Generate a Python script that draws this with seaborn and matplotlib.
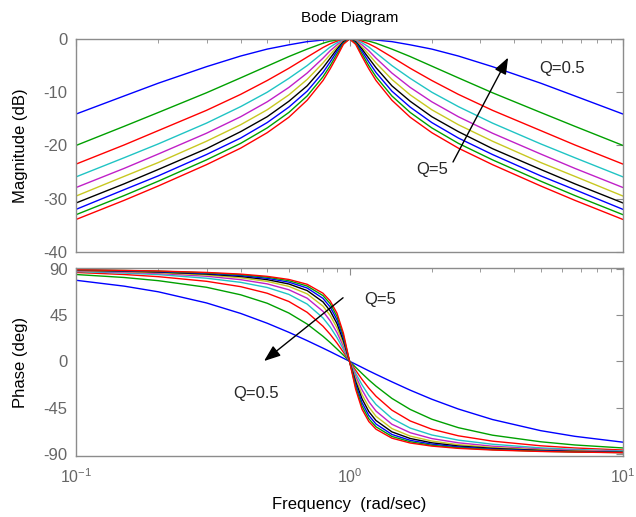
import pandas as pd
import matplotlib
matplotlib.use("Agg")
import matplotlib.pyplot as plt
import seaborn as sns

# Frequency points (rad/sec)
freq = [0.1, 0.15, 0.2, 0.3, 0.4, 0.5, 0.6, 0.7, 0.8, 0.85, 0.9, 0.95, 1.0,
        1.053, 1.111, 1.176, 1.25, 1.429, 1.667, 2.0, 2.5, 3.333, 5.0, 6.667, 10.0]

q_labels = ["0.5", "1", "1.5", "2", "2.5", "3", "3.5", "4", "4.5", "5"]

# Magnitude (dB), one row per Q
mag_db = [
    [-14.1, -10.7, -8.3, -5.2, -3.2, -1.9, -1.1, -0.5, -0.2, -0.1, -0.05, -0.01, 0, -0.01, -0.05, -0.1, -0.2, -0.5, -1.1, -1.9, -3.2, -5.2, -8.3, -10.7, -14.1],
    [-20.0, -16.4, -13.8, -10.1, -7.3, -5.1, -3.3, -1.9, -0.8, -0.4, -0.2, -0.05, 0, -0.05, -0.2, -0.4, -0.8, -1.9, -3.3, -5.1, -7.3, -10.1, -13.8, -16.4, -20.0],
    [-23.5, -19.9, -17.2, -13.4, -10.4, -7.8, -5.5, -3.4, -1.6, -0.9, -0.4, -0.1, 0, -0.1, -0.4, -0.9, -1.6, -3.4, -5.5, -7.8, -10.4, -13.4, -17.2, -19.9, -23.5],
    [-25.9, -22.3, -19.7, -15.8, -12.7, -10.0, -7.4, -5.0, -2.6, -1.5, -0.7, -0.2, 0, -0.2, -0.7, -1.5, -2.6, -5.0, -7.4, -10.0, -12.7, -15.8, -19.7, -22.3, -25.9],
    [-27.9, -24.3, -21.6, -17.7, -14.6, -11.8, -9.1, -6.4, -3.6, -2.2, -1.1, -0.3, 0, -0.3, -1.1, -2.2, -3.6, -6.4, -9.1, -11.8, -14.6, -17.7, -21.6, -24.3, -27.9],
    [-29.5, -25.8, -23.2, -19.2, -16.1, -13.3, -10.5, -7.6, -4.5, -2.9, -1.5, -0.4, 0, -0.4, -1.5, -2.9, -4.5, -7.6, -10.5, -13.3, -16.1, -19.2, -23.2, -25.8, -29.5],
    [-30.8, -27.2, -24.5, -20.6, -17.4, -14.6, -11.7, -8.8, -5.4, -3.6, -1.9, -0.5, 0, -0.5, -1.9, -3.6, -5.4, -8.8, -11.7, -14.6, -17.4, -20.6, -24.5, -27.2, -30.8],
    [-32.0, -28.3, -25.7, -21.7, -18.6, -15.7, -12.8, -9.8, -6.3, -4.3, -2.3, -0.7, 0, -0.7, -2.3, -4.3, -6.3, -9.8, -12.8, -15.7, -18.6, -21.7, -25.7, -28.3, -32.0],
    [-33.0, -29.4, -26.7, -22.7, -19.6, -16.7, -13.8, -10.7, -7.1, -5.0, -2.8, -0.8, 0, -0.8, -2.8, -5.0, -7.1, -10.7, -13.8, -16.7, -19.6, -22.7, -26.7, -29.4, -33.0],
    [-33.9, -30.3, -27.6, -23.6, -20.5, -17.6, -14.7, -11.5, -7.8, -5.6, -3.3, -1.0, 0, -1.0, -3.3, -5.6, -7.8, -11.5, -14.7, -17.6, -20.5, -23.6, -27.6, -30.3, -33.9],
]

# Phase (deg), one row per Q
phase_deg = [
    [78.6, 72.9, 67.4, 56.6, 46.4, 36.9, 28.1, 20.0, 12.7, 9.3, 6.0, 2.9, 0, -2.9, -6.0, -9.3, -12.7, -20.0, -28.1, -36.9, -46.4, -56.6, -67.4, -72.9, -78.6],
    [84.2, 81.3, 78.2, 71.8, 64.5, 56.3, 46.8, 36.1, 24.2, 18.1, 11.9, 5.9, 0, -5.9, -11.9, -18.1, -24.2, -36.1, -46.8, -56.3, -64.5, -71.8, -78.2, -81.3, -84.2],
    [86.2, 84.2, 82.1, 77.6, 72.4, 66.0, 58.0, 47.5, 34.0, 26.1, 17.6, 8.8, 0, -8.8, -17.6, -26.1, -34.0, -47.5, -58.0, -66.0, -72.4, -77.6, -82.1, -84.2, -86.2],
    [87.1, 85.6, 84.1, 80.6, 76.6, 71.6, 64.9, 55.5, 42.0, 33.2, 22.9, 11.6, 0, -11.6, -22.9, -33.2, -42.0, -55.5, -64.9, -71.6, -76.6, -80.6, -84.1, -85.6, -87.1],
    [87.7, 86.5, 85.2, 82.5, 79.2, 75.1, 69.4, 61.2, 48.4, 39.2, 27.8, 14.4, 0, -14.4, -27.8, -39.2, -48.4, -61.2, -69.4, -75.1, -79.2, -82.5, -85.2, -86.5, -87.7],
    [88.1, 87.1, 86.0, 83.7, 81.0, 77.5, 72.7, 65.4, 53.5, 44.4, 32.4, 17.1, 0, -17.1, -32.4, -44.4, -53.5, -65.4, -72.7, -77.5, -81.0, -83.7, -86.0, -87.1, -88.1],
    [88.4, 87.5, 86.6, 84.6, 82.3, 79.2, 75.0, 68.6, 57.6, 48.8, 36.5, 19.8, 0, -19.8, -36.5, -48.8, -57.6, -68.6, -75.0, -79.2, -82.3, -84.6, -86.6, -87.5, -88.4],
    [88.6, 87.8, 87.0, 85.3, 83.2, 80.5, 76.8, 71.1, 61.0, 52.6, 40.2, 22.3, 0, -22.3, -40.2, -52.6, -61.0, -71.1, -76.8, -80.5, -83.2, -85.3, -87.0, -87.8, -88.6],
    [88.7, 88.1, 87.4, 85.8, 84.0, 81.6, 78.2, 73.0, 63.7, 55.8, 43.5, 24.8, 0, -24.8, -43.5, -55.8, -63.7, -73.0, -78.2, -81.6, -84.0, -85.8, -87.4, -88.1, -88.7],
    [88.8, 88.2, 87.6, 86.2, 84.6, 82.4, 79.4, 74.7, 66.0, 58.5, 46.6, 27.2, 0, -27.2, -46.6, -58.5, -66.0, -74.7, -79.4, -82.4, -84.6, -86.2, -87.6, -88.2, -88.8],
]

# MATLAB-style colour order (repeats after black)
line_colors = ["#0000ff", "#00a000", "#ff0000", "#20c4c4", "#c020c8",
               "#c8c820", "#000000", "#0000ff", "#00a000", "#ff0000"]

# Long-form table for seaborn
rows = []
for q, mags, phases in zip(q_labels, mag_db, phase_deg):
    for f, m, p in zip(freq, mags, phases):
        rows.append({"Q": q, "freq": f, "mag": m, "phase": p})
df = pd.DataFrame(rows)

sns.set_style("white")
plt.rcParams["font.family"] = ["Liberation Sans", "DejaVu Sans"]
plt.rcParams["axes.unicode_minus"] = False
plt.rcParams["mathtext.default"] = "regular"

fig = plt.figure(figsize=(6.36, 5.17), dpi=100)
ax_mag = fig.add_axes([0.1195, 0.5126, 0.8601, 0.4120])
ax_ph = fig.add_axes([0.1195, 0.1180, 0.8601, 0.3636])

sns.lineplot(data=df, x="freq", y="mag", hue="Q", hue_order=q_labels,
             palette=line_colors, ax=ax_mag, legend=False, lw=1.0,
             errorbar=None)
sns.lineplot(data=df, x="freq", y="phase", hue="Q", hue_order=q_labels,
             palette=line_colors, ax=ax_ph, legend=False, lw=1.0,
             errorbar=None)

spine_gray = "#8c8c8c"
label_gray = "#666666"
for ax in (ax_mag, ax_ph):
    ax.set_xscale("log")
    ax.set_xlim(0.1, 10)
    ax.tick_params(which="both", direction="in", top=True, right=True,
                   color=spine_gray, labelcolor=label_gray)
    ax.tick_params(axis="y", labelsize=12, pad=6)
    ax.tick_params(axis="x", labelsize=11.5, pad=8)
    ax.tick_params(which="major", length=5)
    ax.tick_params(which="minor", length=3)
    for s in ax.spines.values():
        s.set_color(spine_gray)
        s.set_linewidth(1.0)

ax_mag.set_ylim(-40, 0)
ax_mag.set_yticks([-40, -30, -20, -10, 0])
ax_mag.tick_params(labelbottom=False)
ax_mag.set_xlabel("")
ax_mag.set_ylabel("Magnitude (dB)", fontsize=12, color="black")
ax_mag.yaxis.set_label_coords(-0.088, 0.5)
ax_mag.set_title("Bode Diagram", fontsize=11, color="black", pad=12)

ax_ph.set_ylim(-92, 90.5)
ax_ph.set_yticks([-90, -45, 0, 45, 90])
ax_ph.set_ylabel("Phase (deg)", fontsize=12, color="black")
ax_ph.yaxis.set_label_coords(-0.088, 0.5)
ax_ph.set_xlabel("Frequency  (rad/sec)", fontsize=12, color="black", labelpad=8)

arrow = dict(arrowstyle="-|>,head_length=1.0,head_width=0.38",
             color="black", lw=1.0, shrinkA=0, shrinkB=0)

# Magnitude annotations
ax_mag.annotate("", xy=(3.8, -3.5), xytext=(2.39, -23.1), arrowprops=arrow)
ax_mag.text(2.0, -24.6, "Q=5", fontsize=12, ha="center", va="center")
ax_mag.text(6.0, -5.6, "Q=0.5", fontsize=12, ha="center", va="center")

# Phase annotations
ax_ph.annotate("", xy=(0.487, 0.2), xytext=(0.947, 61.6), arrowprops=arrow)
ax_ph.text(1.29, 59.6, "Q=5", fontsize=12, ha="center", va="center")
ax_ph.text(0.455, -31.4, "Q=0.5", fontsize=12, ha="center", va="center")

fig.savefig("out.png", dpi=100)
